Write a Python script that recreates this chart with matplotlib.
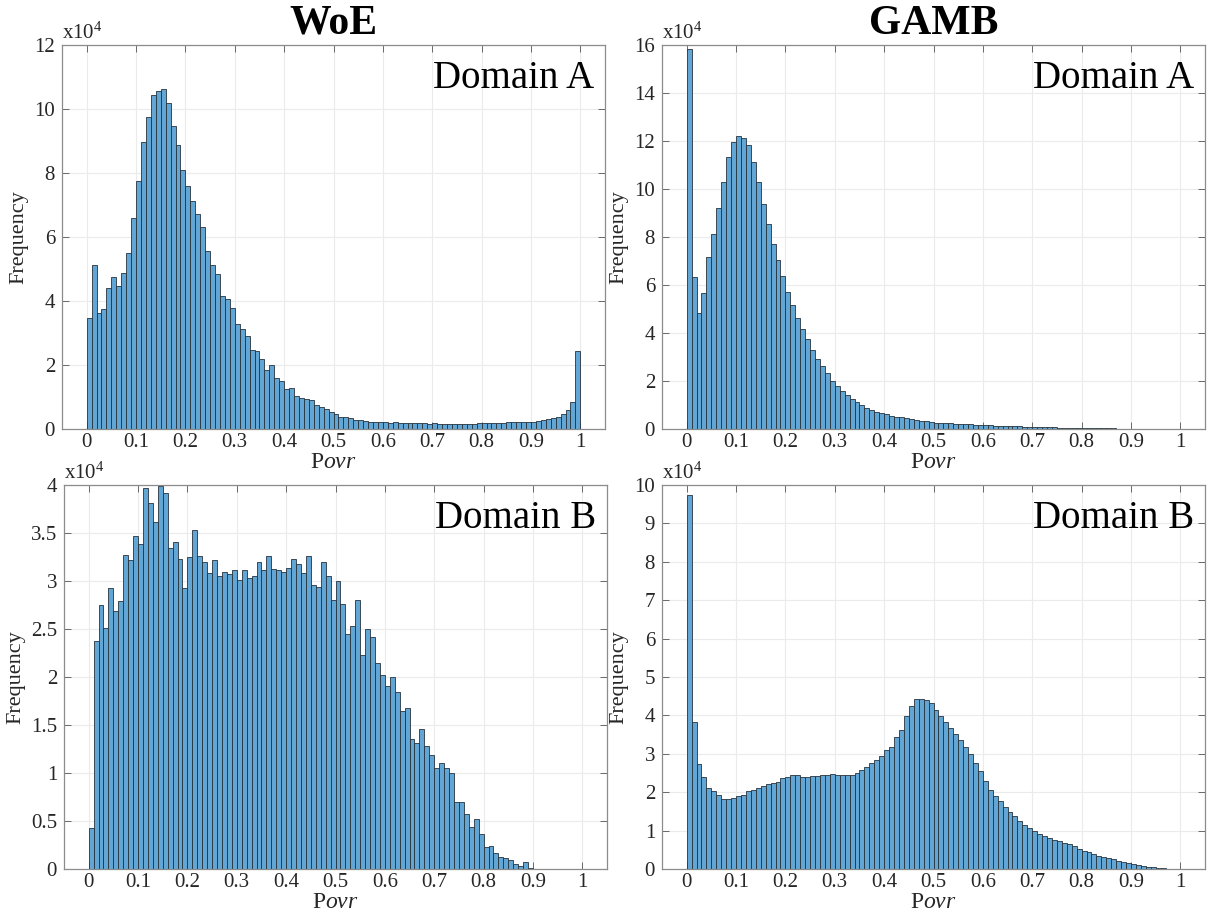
import numpy as np
import matplotlib
matplotlib.use("Agg")
import matplotlib.pyplot as plt
from matplotlib.ticker import FormatStrFormatter, MultipleLocator

# bin counts (x10^4), 100 bins of width 0.01 on [0, 1]
woe_a = [3.46, 5.12, 3.61, 3.74, 4.42, 4.76, 4.47, 4.86, 5.5, 6.6,
         7.75, 8.96, 9.74, 10.44, 10.55, 10.61, 10.2, 9.47, 8.89, 8.1,
         7.59, 7.11, 6.73, 6.32, 5.56, 5.12, 4.84, 4.15, 4.07, 3.77,
         3.29, 3.12, 2.9, 2.46, 2.44, 2.18, 1.84, 1.99, 1.58, 1.5,
         1.25, 1.27, 1.03, 0.97, 0.95, 0.9, 0.74, 0.68, 0.62, 0.52,
         0.46, 0.38, 0.36, 0.33, 0.29, 0.28, 0.24, 0.23, 0.22, 0.22,
         0.21, 0.2, 0.21, 0.19, 0.19, 0.19, 0.18, 0.19, 0.18, 0.17,
         0.18, 0.17, 0.17, 0.17, 0.17, 0.17, 0.17, 0.17, 0.17, 0.18,
         0.18, 0.19, 0.19, 0.2, 0.2, 0.21, 0.21, 0.22, 0.22, 0.23,
         0.23, 0.25, 0.28, 0.31, 0.35, 0.38, 0.46, 0.6, 0.85, 2.45]

gamb_a = [15.83, 6.32, 4.82, 5.67, 7.17, 8.13, 9.19, 10.29, 11.32, 11.97,
          12.22, 12.11, 11.82, 11.13, 10.29, 9.39, 8.54, 7.71, 7.03, 6.36,
          5.69, 5.15, 4.61, 4.17, 3.74, 3.28, 2.9, 2.61, 2.32, 2.01,
          1.81, 1.58, 1.4, 1.25, 1.13, 1.0, 0.89, 0.81, 0.72, 0.67,
          0.61, 0.56, 0.51, 0.49, 0.46, 0.42, 0.38, 0.35, 0.32, 0.29,
          0.27, 0.26, 0.24, 0.23, 0.22, 0.21, 0.2, 0.19, 0.18, 0.17,
          0.16, 0.15, 0.14, 0.13, 0.13, 0.12, 0.11, 0.11, 0.1, 0.09,
          0.09, 0.08, 0.08, 0.07, 0.07, 0.06, 0.06, 0.06, 0.05, 0.05,
          0.05, 0.04, 0.04, 0.04, 0.03, 0.03, 0.03, 0.02, 0.02, 0.02,
          0.015, 0.01, 0.008, 0.005, 0.003, 0.002, 0.001, 0.001, 0.0005, 0.0005]

woe_b = [0.43, 2.38, 2.75, 2.51, 2.93, 2.69, 2.79, 3.27, 3.22, 3.47,
         3.39, 3.97, 3.81, 3.61, 3.99, 3.92, 3.34, 3.41, 3.23, 2.93,
         3.25, 3.53, 3.26, 3.2, 3.08, 3.22, 3.05, 3.09, 3.07, 3.11,
         3.01, 3.11, 3.03, 3.05, 3.2, 3.11, 3.26, 3.13, 3.11, 3.09,
         3.14, 3.23, 3.18, 3.08, 3.26, 2.96, 2.94, 3.2, 3.05, 2.8,
         3.0, 2.76, 2.45, 2.53, 2.8, 2.23, 2.5, 2.42, 2.15, 2.02,
         1.91, 2.0, 1.84, 1.65, 1.68, 1.35, 1.31, 1.46, 1.28, 1.19,
         1.05, 1.1, 1.05, 1.0, 0.7, 0.7, 0.57, 0.44, 0.52, 0.36,
         0.23, 0.24, 0.17, 0.125, 0.115, 0.09, 0.05, 0.03, 0.07, 0.01,
         0.005, 0.003, 0.002, 0.002, 0.001, 0.001, 0.002, 0.001, 0.0005, 0.0005]

gamb_b = [9.74, 3.84, 2.73, 2.39, 2.12, 2.02, 1.93, 1.83, 1.82, 1.85,
          1.89, 1.93, 2.02, 2.06, 2.12, 2.16, 2.22, 2.25, 2.26, 2.37,
          2.4, 2.44, 2.45, 2.4, 2.4, 2.42, 2.43, 2.45, 2.45, 2.47,
          2.46, 2.46, 2.46, 2.46, 2.5, 2.58, 2.65, 2.75, 2.83, 2.93,
          3.09, 3.19, 3.43, 3.61, 3.98, 4.25, 4.42, 4.44, 4.41, 4.32,
          4.15, 3.99, 3.82, 3.67, 3.52, 3.35, 3.17, 2.99, 2.76, 2.54,
          2.3, 2.06, 1.89, 1.76, 1.61, 1.48, 1.37, 1.24, 1.15, 1.07,
          0.98, 0.92, 0.87, 0.82, 0.76, 0.72, 0.68, 0.65, 0.59, 0.52,
          0.48, 0.43, 0.39, 0.35, 0.31, 0.29, 0.25, 0.22, 0.19, 0.16,
          0.13, 0.1, 0.08, 0.06, 0.04, 0.025, 0.015, 0.008, 0.004, 0.002]

titles = ["WoE", "GAMB"]
domains = ["Domain A", "Domain B"]
ymax = [[12, 16], [4, 10]]
ystep = [[2, 2], [0.5, 1]]

plt.rcParams['font.family'] = ['Liberation Serif', 'DejaVu Serif']
plt.rcParams['mathtext.fontset'] = 'custom'
plt.rcParams['mathtext.rm'] = 'Liberation Serif'
plt.rcParams['mathtext.it'] = 'Liberation Serif:italic'

edges = np.linspace(0, 1, 101)
data = [[woe_a, gamb_a], [woe_b, gamb_b]]

fig = plt.figure(figsize=(12.07, 9.17), dpi=100)
W, H = 1207.0, 917.0
# axes boxes in pixels: left, top (width 543, height 384)
boxes = [[(62, 45), (662, 45)], [(64, 485), (662, 485)]]

for r in range(2):
    for c in range(2):
        x0, y0 = boxes[r][c]
        ax = fig.add_axes([x0 / W, 1 - (y0 + 384) / H, 543 / W, 384 / H])
        ax.hist(edges[:-1], bins=edges, weights=data[r][c],
                color='#62a6d5', edgecolor='#26323c', linewidth=0.6)
        ax.set_xlim(-0.05, 1.05)
        ax.set_ylim(0, ymax[r][c])
        ax.xaxis.set_major_locator(MultipleLocator(0.1))
        ax.yaxis.set_major_locator(MultipleLocator(ystep[r][c]))
        ax.xaxis.set_major_formatter(FormatStrFormatter('%g'))
        ax.yaxis.set_major_formatter(FormatStrFormatter('%g'))
        ax.set_axisbelow(True)
        ax.grid(True, color='#ebebeb', linewidth=0.8)
        ax.tick_params(direction='in', top=True, right=True, length=5,
                       width=0.6, labelsize=15, color='#555555',
                       labelcolor='#262626')
        ax.tick_params(axis='x', pad=3)
        ax.tick_params(axis='y', pad=5)
        for s in ax.spines.values():
            s.set_color('#8c8c8c')
            s.set_linewidth(0.9)
        ax.set_ylabel('Frequency', fontsize=16, color='#262626', labelpad=4)
        ax.set_xlabel(r'P$\mathit{ovr}$', fontsize=17, color='#262626', labelpad=0)
        ax.text(0.0, 1.003, r'x10$^4$', transform=ax.transAxes,
                ha='left', va='bottom', fontsize=15, color='#262626')
        ax.text(0.98, 1 - 43 / 384.0, domains[r], transform=ax.transAxes,
                ha='right', va='baseline', fontsize=28)
        if r == 0:
            ax.set_title(titles[c], fontsize=30, fontweight='bold', pad=8)

plt.savefig('out.png', dpi=100)
